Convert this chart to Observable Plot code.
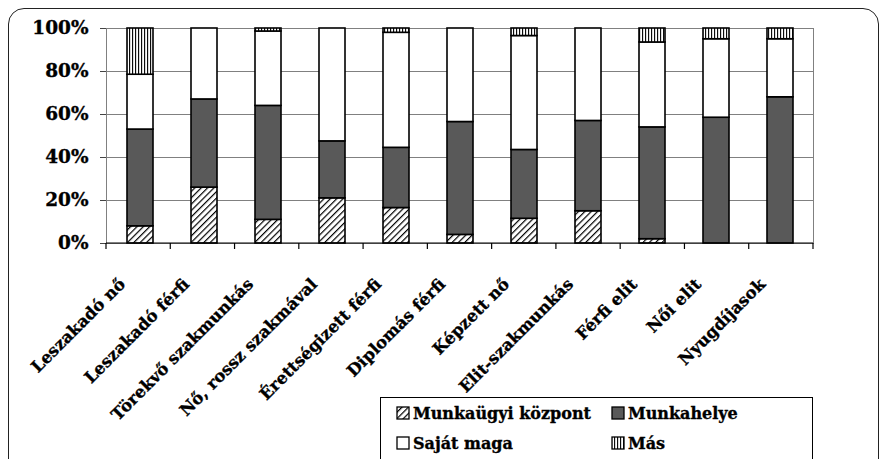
<!DOCTYPE html>
<html>
<head>
<meta charset="utf-8">
<script src="https://cdn.jsdelivr.net/npm/d3@7"></script>
<script src="https://cdn.jsdelivr.net/npm/@observablehq/plot@0.6"></script>
<style>
  html, body { margin: 0; padding: 0; background: #fff; }
  #wrap { position: relative; width: 882px; height: 459px; overflow: hidden; background: #fff;
          font-family: "DejaVu Serif", serif; font-weight: bold; }
  #frame { position: absolute; left: 8px; top: 8px; width: 871px; height: 500px;
           border: 1.5px solid #222; border-radius: 16px; box-sizing: border-box; }
  #chart { position: absolute; left: 0; top: 0; }
  #chart svg text { stroke: #000; stroke-width: 0.35px; }
  #legend { position: absolute; left: 380px; top: 397px; width: 433px; height: 80px;
            border: 1px solid #000; box-sizing: border-box; background: #fff; font-size: 16px;
            -webkit-text-stroke: 0.35px #000; }
  .item { position: absolute; display: flex; align-items: center; white-space: nowrap; }
  .item svg { margin-right: 3px; }
</style>
</head>
<body>
<div id="wrap">
  <div id="frame"></div>
  <div id="chart"></div>
  <div id="legend"></div>
</div>
<script>
const categories = ["Leszakadó nő", "Leszakadó férfi", "Törekvő szakmunkás", "Nő, rossz szakmával",
  "Érettségizett férfi", "Diplomás férfi", "Képzett nő", "Elit-szakmunkás", "Férfi elit", "Női elit", "Nyugdíjasok"];
const seriesNames = ["Munkaügyi központ", "Munkahelye", "Saját maga", "Más"];
const munkaugyi  = [8, 26, 11, 21, 16.5, 4, 11.5, 15, 2, 0, 0];
const munkahelye = [45, 41, 53, 26.5, 28, 52.5, 32, 42, 52, 58.5, 68];
const sajat      = [25.5, 33, 34.6, 52.5, 53.5, 43.5, 53, 43, 39.5, 36.5, 27];
const mas        = [21.5, 0, 1.4, 0, 2, 0, 3.5, 0, 6.5, 5, 5];
const yTicks = [0, 20, 40, 60, 80, 100];

const fills = ["url(#hatch)", "#595959", "#ffffff", "url(#vstripe)"];
const seriesValues = [munkaugyi, munkahelye, sajat, mas];

const rows = [];
categories.forEach((c, i) => {
  seriesNames.forEach((s, j) => {
    const v = seriesValues[j][i];
    if (v > 0) rows.push({category: c, series: s, value: v});
  });
});

const defs = `
<defs>
  <pattern id="hatch" patternUnits="userSpaceOnUse" width="4.5" height="4.5" patternTransform="rotate(45)">
    <rect width="4.5" height="4.5" fill="#fff"/>
    <line x1="0.6" y1="0" x2="0.6" y2="4.5" stroke="#000" stroke-width="1.2"/>
  </pattern>
  <pattern id="vstripe" patternUnits="userSpaceOnUse" width="3" height="3">
    <rect width="3" height="3" fill="#fff"/>
    <line x1="0.6" y1="0" x2="0.6" y2="3" stroke="#000" stroke-width="1.1"/>
  </pattern>
</defs>`;

function boundaryTicks(index, scales, values, dimensions) {
  const {width, marginLeft, marginRight} = dimensions;
  const n = categories.length;
  const step = (width - marginLeft - marginRight) / n;
  const y0 = scales.y(0);
  const g = d3.create("svg:g").attr("stroke", "#000").attr("stroke-width", 1.2);
  for (let k = 0; k <= n; k++) {
    const x = marginLeft + k * step;
    g.append("line").attr("x1", x).attr("x2", x).attr("y1", y0).attr("y2", y0 + 6);
  }
  g.append("line").attr("x1", marginLeft).attr("x2", width - marginRight).attr("y1", y0).attr("y2", y0);
  return g.node();
}

const plot = Plot.plot({
  width: 882,
  height: 459,
  marginTop: 28,
  marginLeft: 106,
  marginRight: 69,
  marginBottom: 216,
  style: {fontFamily: "DejaVu Serif, serif", fontWeight: "bold", background: "transparent"},
  x: {domain: categories, paddingInner: 0.6, paddingOuter: 0.3, label: null},
  y: {domain: [0, 100], label: null},
  color: {domain: seriesNames, range: fills},
  marks: [
    Plot.ruleY(yTicks.slice(1), {stroke: "#808080", strokeWidth: 1}),
    Plot.frame({stroke: "#808080", strokeWidth: 1}),
    Plot.barY(rows, Plot.stackY({x: "category", y: "value", z: "series", fill: "series",
      order: seriesNames, stroke: "#000", strokeWidth: 1.6})),
    Plot.axisY({ticks: yTicks, tickFormat: d => d + "%", tickSize: 6, tickPadding: 12,
      fontSize: 18.5, stroke: "#444", label: null}),
    Plot.axisX({tickSize: 0, tickPadding: 38, dx: -18, tickRotate: -45, fontSize: 16.5, label: null}),
    boundaryTicks
  ]
});
plot.insertAdjacentHTML("afterbegin", defs);
document.getElementById("chart").appendChild(plot);

// Legend
const legend = document.getElementById("legend");
const pos = [[15, 15], [230, 15], [15, 45], [230, 45]];
seriesNames.forEach((s, j) => {
  const item = document.createElement("div");
  item.className = "item";
  item.style.left = pos[j][0] + "px";
  item.style.top = (pos[j][1] - 12) + "px";
  item.style.height = "24px";
  item.innerHTML = `<svg width="14" height="14">${defs}<rect x="1" y="1" width="12" height="12" fill="${fills[j]}" stroke="#000" stroke-width="1.3"/></svg><span>${s}</span>`;
  legend.appendChild(item);
});
</script>
</body>
</html>
